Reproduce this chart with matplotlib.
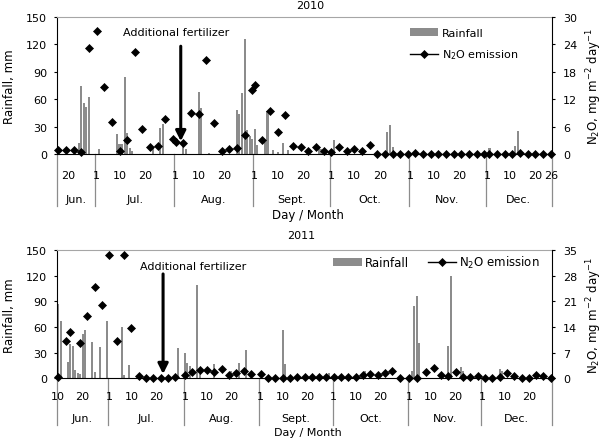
import numpy as np
import pandas as pd
import matplotlib
matplotlib.use("Agg")
import matplotlib.pyplot as plt
import matplotlib.transforms as mtransforms
from matplotlib.patches import Patch
from matplotlib.lines import Line2D

plt.rcParams.update({
    "font.family": "DejaVu Sans",
    "font.size": 8,
    "mathtext.default": "regular",
    "axes.linewidth": 0.8,
})
BAR = "#8c8c8c"
DIV = "#8c8c8c"
W, H = 606, 439

# ── 2010 ────────────────────────────────────────────────────────────────
rain_2010_dates = ["06-24", "06-25", "06-26", "06-27", "06-28", "07-02", "07-09", "07-10",
                   "07-11", "07-12", "07-13", "07-14", "07-15", "07-23", "07-26", "07-27",
                   "08-04", "08-05", "08-10", "08-11", "08-14", "08-25", "08-26", "08-27",
                   "08-28", "08-29", "08-30", "08-31", "09-01", "09-02", "09-05", "09-06",
                   "09-08", "09-10", "09-12", "09-14", "09-26", "09-27", "10-02", "10-23",
                   "10-24", "10-25", "12-02", "12-12", "12-13"]
rain_2010_mm = [12, 75, 56, 51, 62, 5, 22, 11,
                11, 84, 23, 7, 3, 8, 29, 33,
                9, 6, 68, 50, 1, 48, 44, 67,
                126, 26, 20, 16, 27, 10, 13, 47,
                4, 2, 12, 4, 7, 5, 15, 24,
                32, 8, 7, 9, 25]
n2o_2010_dates = ["06-16", "06-19", "06-22", "06-25", "06-28", "07-01", "07-04", "07-07",
                  "07-10", "07-13", "07-16", "07-19", "07-22", "07-25", "07-28", "07-31",
                  "08-01", "08-04", "08-07", "08-10", "08-13", "08-16", "08-19", "08-22",
                  "08-25", "08-28", "08-31", "09-01", "09-04", "09-07", "09-10", "09-13",
                  "09-16", "09-19", "09-22", "09-25", "09-28", "10-01", "10-04", "10-07",
                  "10-10", "10-13", "10-16", "10-19", "10-22", "10-25", "10-28", "10-31",
                  "11-03", "11-06", "11-09", "11-12", "11-15", "11-18", "11-21", "11-24",
                  "11-27", "11-30", "12-02", "12-05", "12-08", "12-11", "12-14", "12-17",
                  "12-20", "12-23", "12-26"]
n2o_2010 = [0.9, 0.9, 0.8, 0.5, 23.3, 26.9, 14.7, 7.0,
            0.6, 3.1, 22.3, 5.4, 1.6, 1.8, 7.6, 3.3,
            2.6, 2.3, 9.0, 8.8, 20.5, 6.8, 0.7, 1.1,
            1.3, 4.2, 14.0, 15.1, 3.1, 9.4, 4.8, 8.5,
            1.8, 1.6, 0.6, 1.6, 0.6, 0.4, 1.5, 0.6,
            1.0, 0.6, 2.0, 0.0, 0.0, 0.0, 0.0, 0.0,
            0.2, 0.0, 0.0, 0.0, 0.0, 0.0, 0.0, 0.0,
            0.0, 0.0, 0.0, 0.0, 0.0, 0.0, 0.3, 0.0,
            0.0, 0.0, 0.0]
ticks_2010 = ["06-20",
              "07-01", "07-10", "07-20", "08-01", "08-10", "08-20",
              "09-01", "09-10", "09-20", "10-01", "10-10", "10-20",
              "11-01", "11-10", "11-20", "12-01", "12-10", "12-20", "12-26"]

# ── 2011 ────────────────────────────────────────────────────────────────
rain_2011_dates = ["06-10", "06-11", "06-14", "06-15", "06-16", "06-17", "06-18", "06-19",
                   "06-20", "06-21", "06-24", "06-25", "06-27", "06-30", "07-06", "07-07",
                   "07-09", "07-29", "08-01", "08-02", "08-03", "08-06", "08-07", "08-13",
                   "08-20", "08-23", "08-26", "09-10", "09-11", "09-29", "10-01", "10-14",
                   "11-02", "11-03", "11-04", "11-05", "11-17", "11-18", "11-22", "11-23",
                   "12-08", "12-09"]
rain_2011_mm = [87, 67, 19, 40, 38, 10, 6, 5,
                52, 56, 43, 7, 37, 67, 60, 4,
                16, 36, 29, 18, 14, 109, 5, 17,
                8, 18, 33, 57, 17, 6, 5, 9,
                8, 85, 96, 41, 38, 120, 13, 9,
                11, 8]
n2o_2011_dates = ["06-10", "06-13", "06-15", "06-19", "06-22", "06-25", "06-28", "07-01",
                  "07-04", "07-07", "07-10", "07-13", "07-16", "07-19", "07-22", "07-25",
                  "07-28", "08-01", "08-04", "08-07", "08-10", "08-13", "08-16", "08-19",
                  "08-22", "08-25", "08-28", "09-01", "09-04", "09-07", "09-10", "09-13",
                  "09-16", "09-19", "09-22", "09-25", "09-28", "10-01", "10-04", "10-07",
                  "10-10", "10-13", "10-16", "10-19", "10-22", "10-25", "10-28", "11-01",
                  "11-04", "11-08", "11-11", "11-14", "11-17", "11-20", "11-23", "11-26",
                  "11-29", "12-02", "12-05", "12-08", "12-11", "12-14", "12-17", "12-20",
                  "12-23", "12-26", "12-29"]
n2o_2011 = [0.3, 10.2, 12.5, 9.7, 17.0, 24.9, 20.0, 33.6,
            10.2, 33.6, 13.8, 0.7, 0.2, 0.2, 0.2, 0.2,
            0.3, 0.9, 1.6, 2.4, 2.4, 1.8, 2.5, 1.0,
            1.4, 1.9, 1.3, 1.3, 0.2, 0.2, 0.2, 0.2,
            0.4, 0.4, 0.3, 0.3, 0.3, 0.3, 0.3, 0.3,
            0.3, 0.9, 1.2, 0.9, 1.4, 1.9, 0.1, 0.2,
            0.1, 1.6, 2.8, 0.9, 0.7, 1.6, 0.3, 0.3,
            0.6, 0.2, 0.2, 0.4, 1.5, 0.6, 0.2, 0.2,
            0.9, 0.7, 0.2]
ticks_2011 = ["06-10", "06-20",
              "07-01", "07-10", "07-20", "08-01", "08-10", "08-20",
              "09-01", "09-10", "09-20", "10-01", "10-10", "10-20",
              "11-01", "11-10", "11-20", "12-01", "12-10", "12-20"]

MONTHS = ["Jun.", "Jul.", "Aug.", "Sept.", "Oct.", "Nov.", "Dec."]
FERT_2010 = "08-03"
FERT_2011 = "07-23"


def doy(year, mmdd):
    return pd.to_datetime([f"{year}-{s}" for s in mmdd]).dayofyear.values.astype(float)


def px_rect(l, t, r, b):
    return [l / W, 1 - b / H, (r - l) / W, (b - t) / H]


def panel(ax, year, rd, rv, nd, nv, first, last, ticks, n2o_top, n2o_step, rows):
    ax.bar(doy(year, rd), rv, width=0.8, color=BAR, linewidth=0, zorder=2)
    ax.set_yticks(np.arange(0, 151, 30))
    ax.tick_params(axis="y", direction="out", length=2.5, pad=4.5)
    ax.set_xticks([])
    ax.spines["right"].set_visible(False)
    ax.spines["top"].set_color("#a6a6a6")

    x0 = doy(year, [first])[0] - 0.5
    x1 = doy(year, [last])[0] + 0.5

    # two-level category axis (day / month)
    h_px = ax.get_position().height * H
    tr = mtransforms.blended_transform_factory(ax.transData, ax.transAxes)
    day_y, mon_y, div_y = rows
    for x, s in zip(doy(year, ticks), ticks):
        ax.text(x, -day_y / h_px, str(int(s[3:])), transform=tr,
                ha="center", va="center")
    bounds = [x0] + list(doy(year, [f"{m:02d}-01" for m in range(7, 13)]) - 0.5) + [x1]
    for b in bounds:
        ax.plot([b, b], [0, -div_y / h_px], transform=tr, color=DIV, lw=0.9, clip_on=False)
    for i, name in enumerate(MONTHS):
        ax.text((bounds[i] + bounds[i + 1]) / 2, -mon_y / h_px, name, transform=tr,
                ha="center", va="center")
    ax.set_xlim(x0, x1)
    ax.set_ylim(0, 150)

    ax2 = ax.twinx()
    ax2.plot(doy(year, nd), nv, ls="none", marker="D", ms=3.9, mew=0.5,
             color="k", clip_on=False, zorder=3)
    ax2.set_ylim(0, n2o_top)
    ax2.set_xlim(x0, x1)
    ax2.set_yticks(np.arange(0, n2o_top + 1, n2o_step))
    ax2.tick_params(axis="y", direction="out", length=2.5, pad=5.5)
    for s in ["left", "top", "bottom"]:
        ax2.spines[s].set_visible(False)
    return ax2


fig = plt.figure(figsize=(W / 100, H / 100), dpi=100)
ax_top = fig.add_axes(px_rect(57, 18, 552, 155))
ax_bot = fig.add_axes(px_rect(57, 251, 552, 379.3))

t2 = panel(ax_top, 2010, rain_2010_dates, rain_2010_mm, n2o_2010_dates, n2o_2010,
           "06-16", "12-26", ticks_2010, 30, 6, (21, 45, 52))
b2 = panel(ax_bot, 2011, rain_2011_dates, rain_2011_mm, n2o_2011_dates, n2o_2011,
           "06-10", "12-29", ticks_2011, 35, 7, (18, 40, 47))

n2o_label = r"N$_2$O, mg m$^{-2}$ day$^{-1}$"
fig.text(310 / W, 1 - 6 / H, "2010", ha="center", va="center")
fig.text(301 / W, 1 - 236 / H, "2011", ha="center", va="center")
for yc in (87, 316):
    fig.text(10 / W, 1 - yc / H, "Rainfall, mm", rotation=90, ha="center", va="center",
             fontsize=8.5)
    fig.text(594 / W, 1 - yc / H, n2o_label, rotation=90, ha="center", va="center",
             fontsize=8.5)
fig.text(308 / W, 1 - 215 / H, "Day / Month", ha="center", va="center", fontsize=8.5)
fig.text(308 / W, 1 - 433 / H, "Day / Month", ha="center", va="center", fontsize=8)

# additional fertilizer arrows
arrow = dict(arrowstyle="-|>,head_width=0.3,head_length=0.6", lw=2.2, color="k",
             mutation_scale=10, shrinkA=0, shrinkB=0)
fx = doy(2010, [FERT_2010])[0]
ax_top.annotate("", xy=(fx, 14), xytext=(fx, 118), arrowprops=arrow, zorder=5)
ax_top.text(0.24, 0.891, "Additional fertilizer", transform=ax_top.transAxes,
            ha="center", va="center", fontsize=8)
fx = doy(2011, [FERT_2011])[0]
ax_bot.annotate("", xy=(fx, 5), xytext=(fx, 122), arrowprops=arrow, zorder=5)
ax_bot.text(0.275, 0.878, "Additional fertilizer", transform=ax_bot.transAxes,
            ha="center", va="center", fontsize=8)

handles = [Patch(facecolor=BAR, edgecolor="none"),
           Line2D([], [], color="k", lw=1, marker="D", ms=3.9, mew=0.5)]
names = ["Rainfall", "N$_2$O emission"]
t2.legend(handles, names, loc="upper left", bbox_to_anchor=(0.713, 0.923),
          frameon=False, borderpad=0, borderaxespad=0, handlelength=2.5,
          handletextpad=0.35, labelspacing=0.9, fontsize=8)
b2.legend(handles, names, loc="upper left", bbox_to_anchor=(0.558, 0.969), ncol=2,
          frameon=False, borderpad=0, borderaxespad=0, handlelength=2.4,
          handletextpad=0.25, columnspacing=1.6, fontsize=8.5)

fig.savefig("out.png", dpi=100)
